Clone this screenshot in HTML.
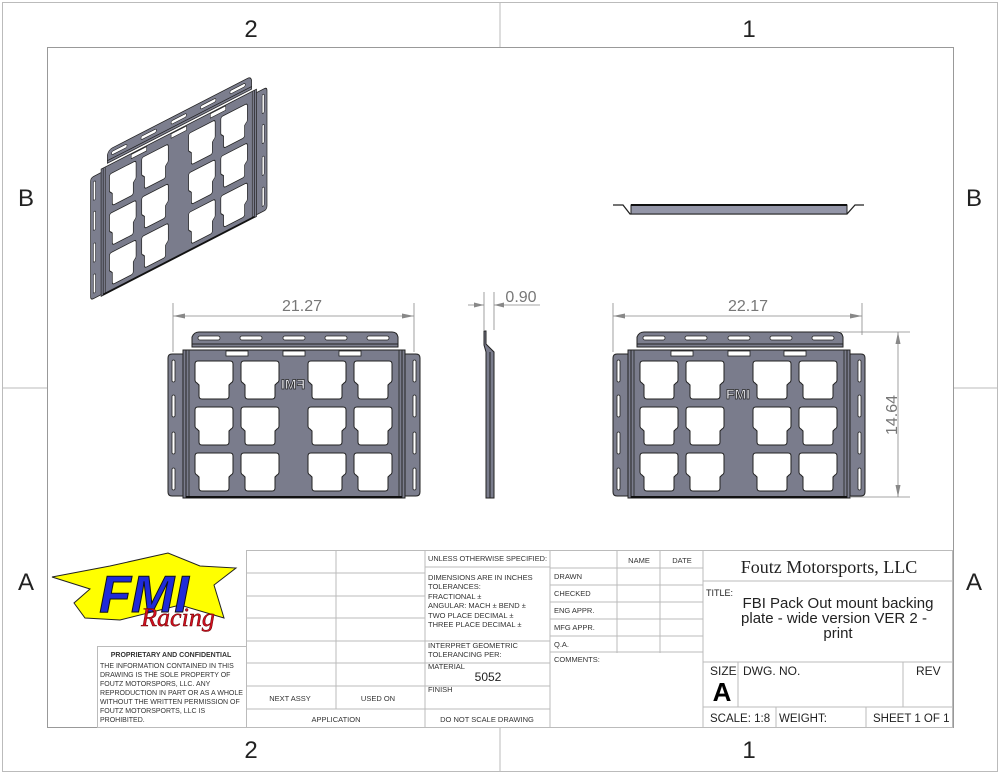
<!DOCTYPE html>
<html><head><meta charset="utf-8"><style>
html,body{margin:0;padding:0;background:#fff;}
svg{display:block;font-family:"Liberation Sans",sans-serif;}
</style></head><body>
<svg width="1000" height="774" viewBox="0 0 1000 774" xmlns="http://www.w3.org/2000/svg">
<defs>
<path id="co" d="M0,3 Q0,0 3,0 H35 Q38,0 38,3 V19 Q38,21 36,22 L34,24 V35 Q34,38 31,38 H7 Q4,38 4,35 V24 L2,22 Q0,21 0,19 Z" fill="#fff" stroke="#222" stroke-width="1"/>
<g id="plate">
  <path d="M192,347 L192,337 Q194,332 199,332 H392 Q397,332 398,337 L398,347 Z" fill="#7c7e8e" stroke="#222" stroke-width="1"/>
  <g fill="#fff" stroke="#222" stroke-width="0.8">
    <rect x="198" y="336" width="22" height="4" rx="2"/><rect x="240" y="336" width="22" height="4" rx="2"/><rect x="283" y="336" width="22" height="4" rx="2"/><rect x="325" y="336" width="22" height="4" rx="2"/><rect x="367" y="336" width="22" height="4" rx="2"/>
  </g>
  <line x1="192" y1="344" x2="398" y2="344" stroke="#222"/>
  <path d="M186,354 H172 Q168,354 168,358 V492 Q168,496 172,496 H186 Z" fill="#7c7e8e" stroke="#222"/>
  <path d="M402,354 H416 Q420,354 420,358 V492 Q420,496 416,496 H402 Z" fill="#7c7e8e" stroke="#222"/>
  <g fill="#fff" stroke="#222" stroke-width="0.8">
    <rect x="172" y="360" width="3" height="22" rx="1.5"/><rect x="172" y="395" width="3" height="22" rx="1.5"/><rect x="172" y="432" width="3" height="22" rx="1.5"/><rect x="172" y="468" width="3" height="22" rx="1.5"/>
    <rect x="413" y="360" width="3" height="22" rx="1.5"/><rect x="413" y="395" width="3" height="22" rx="1.5"/><rect x="413" y="432" width="3" height="22" rx="1.5"/><rect x="413" y="468" width="3" height="22" rx="1.5"/>
  </g>
  <rect x="183" y="350" width="222" height="148" fill="#7a7c8c" stroke="#222"/>
  <line x1="186" y1="350" x2="186" y2="498" stroke="#222"/><line x1="189" y1="350" x2="189" y2="498" stroke="#333"/>
  <line x1="402" y1="350" x2="402" y2="498" stroke="#222"/><line x1="399" y1="350" x2="399" y2="498" stroke="#333"/>
  <line x1="186" y1="497" x2="402" y2="497" stroke="#111" stroke-width="2"/>
  <g fill="#fff" stroke="#222" stroke-width="0.8">
    <rect x="226" y="351" width="22" height="5"/><rect x="283" y="351" width="22" height="5"/><rect x="339" y="351" width="22" height="5"/>
  </g>
  <use href="#co" x="195" y="361"/><use href="#co" x="241" y="361"/><use href="#co" x="308" y="361"/><use href="#co" x="354" y="361"/>
  <use href="#co" x="195" y="407"/><use href="#co" x="241" y="407"/><use href="#co" x="308" y="407"/><use href="#co" x="354" y="407"/>
  <use href="#co" x="195" y="453"/><use href="#co" x="241" y="453"/><use href="#co" x="308" y="453"/><use href="#co" x="354" y="453"/>
</g>
</defs>

<rect x="2.5" y="2.5" width="995" height="769" fill="none" stroke="#bbb"/>
<rect x="47.5" y="47.5" width="906" height="680" fill="none" stroke="#999"/>
<g stroke="#bbb"><line x1="500" y1="3" x2="500" y2="47"/><line x1="500" y1="728" x2="500" y2="771"/><line x1="3" y1="388" x2="47" y2="388"/><line x1="954" y1="388" x2="997" y2="388"/></g>
<g font-size="24" fill="#222" text-anchor="middle">
<text x="251" y="37">2</text><text x="749" y="37">1</text>
<text x="251" y="758">2</text><text x="749" y="758">1</text>
<text x="26" y="206">B</text><text x="974" y="206">B</text>
<text x="26" y="590">A</text><text x="974" y="590">A</text>
</g>

<!-- iso view -->
<g transform="matrix(0.7,-0.36,0,0.86,-27,-66)"><use href="#plate"/></g>

<polyline points="613,205 623,205 630,214 847,214 855,205 864,205" fill="none" stroke="#222" stroke-width="1.3"/>
<rect x="631" y="205" width="216" height="9" fill="#9496a8" stroke="#222"/>
<line x1="631" y1="205" x2="847" y2="205" stroke="#111" stroke-width="2"/>

<use href="#plate"/>
<text x="259" y="389" font-size="14" font-weight="bold" fill="#e8e8ee" stroke="#222" stroke-width="0.7" transform="translate(552,0) scale(-1,1)" text-anchor="middle">FMI</text>
<g transform="translate(445,0)"><use href="#plate"/></g>
<text x="738" y="399" font-size="14" font-weight="bold" fill="#e8e8ee" stroke="#222" stroke-width="0.7" text-anchor="middle">FMI</text>

<path d="M484,331 L486,331 L486,344 L494,352 L494,498 L486,498 L486,352 L484,345 Z" fill="#7a7c8c" stroke="#222"/>
<line x1="490" y1="352" x2="490" y2="498" stroke="#222"/>

<g stroke="#888" stroke-width="0.8" fill="none">
<line x1="173" y1="303" x2="173" y2="352"/><line x1="414" y1="303" x2="414" y2="352"/><line x1="173" y1="316" x2="414" y2="316"/>
<line x1="613" y1="303" x2="613" y2="352"/><line x1="862" y1="303" x2="862" y2="335"/><line x1="613" y1="316" x2="862" y2="316"/>
<line x1="840" y1="332" x2="910" y2="332"/><line x1="850" y1="497" x2="910" y2="497"/><line x1="898" y1="332" x2="898" y2="497"/>
<line x1="484" y1="292" x2="484" y2="330"/><line x1="494" y1="292" x2="494" y2="330"/><line x1="468" y1="305" x2="484" y2="305"/><line x1="494" y1="305" x2="540" y2="305"/>
</g>
<g fill="#888">
<path d="M173,316 l12,-2.5 v5z"/><path d="M414,316 l-12,-2.5 v5z"/>
<path d="M613,316 l12,-2.5 v5z"/><path d="M862,316 l-12,-2.5 v5z"/>
<path d="M898,332 l-2.5,12 h5z"/><path d="M898,497 l-2.5,-12 h5z"/>
<path d="M484,305 l-10,-2.5 v5z"/><path d="M494,305 l10,-2.5 v5z"/>
</g>
<g font-size="16" fill="#777" text-anchor="middle">
<text x="302" y="311">21.27</text><text x="748" y="311">22.17</text><text x="521" y="302">0.90</text>
<text x="893" y="415" transform="rotate(-90,893,415)" dominant-baseline="middle">14.64</text>
</g>

<polygon points="52,577 110,566 168,553 200,566 236,568 214,585 224,618 180,605 120,620 85,618 74,603 90,589" fill="#ffff00" stroke="#222" stroke-width="1"/>
<text x="144" y="612" font-size="52" font-weight="bold" font-style="italic" fill="#1f2bd8" stroke="#111" stroke-width="1" text-anchor="middle">FMI</text>
<text x="178" y="626" font-size="26" font-style="italic" font-family="Liberation Serif,serif" fill="#d01020" stroke="#600" stroke-width="0.5" text-anchor="middle">Racing</text>

<g stroke="#bbb" stroke-width="1" fill="none">
<rect x="246.5" y="550.5" width="706" height="177"/>
<line x1="336" y1="550" x2="336" y2="709"/><line x1="425" y1="550" x2="425" y2="728"/><line x1="550" y1="550" x2="550" y2="728"/>
<line x1="617" y1="550" x2="617" y2="653"/><line x1="660" y1="550" x2="660" y2="653"/><line x1="703" y1="550" x2="703" y2="728"/>
<line x1="246" y1="573" x2="425" y2="573"/><line x1="246" y1="596" x2="425" y2="596"/><line x1="246" y1="618" x2="425" y2="618"/><line x1="246" y1="641" x2="425" y2="641"/><line x1="246" y1="663" x2="425" y2="663"/><line x1="246" y1="686" x2="425" y2="686"/><line x1="246" y1="709" x2="550" y2="709"/>
<line x1="425" y1="567" x2="550" y2="567"/><line x1="425" y1="641" x2="550" y2="641"/><line x1="425" y1="663" x2="550" y2="663"/><line x1="425" y1="686" x2="550" y2="686"/>
<line x1="550" y1="568" x2="703" y2="568"/><line x1="550" y1="585" x2="703" y2="585"/><line x1="550" y1="602" x2="703" y2="602"/><line x1="550" y1="619" x2="703" y2="619"/><line x1="550" y1="636" x2="703" y2="636"/><line x1="550" y1="652" x2="703" y2="652"/>
<line x1="703" y1="581" x2="953" y2="581"/><line x1="703" y1="662" x2="953" y2="662"/><line x1="703" y1="707" x2="953" y2="707"/>
<line x1="738" y1="662" x2="738" y2="707"/><line x1="903" y1="662" x2="903" y2="707"/><line x1="776" y1="707" x2="776" y2="728"/><line x1="866" y1="707" x2="866" y2="728"/>
<rect x="97.5" y="646.5" width="149" height="81"/>
</g>
<g font-size="7" fill="#333">
<text x="171" y="657" text-anchor="middle" font-weight="bold">PROPRIETARY AND CONFIDENTIAL</text>
<text x="100" y="668">THE INFORMATION CONTAINED IN THIS</text>
<text x="100" y="677">DRAWING IS THE SOLE PROPERTY OF</text>
<text x="100" y="686">FOUTZ MOTORSPORS, LLC.  ANY</text>
<text x="100" y="695" textLength="143" lengthAdjust="spacingAndGlyphs">REPRODUCTION IN PART OR AS A WHOLE</text>
<text x="100" y="704">WITHOUT THE WRITTEN PERMISSION OF</text>
<text x="100" y="713">FOUTZ MOTORSPORTS, LLC IS</text>
<text x="100" y="722">PROHIBITED.</text>
</g>
<g font-size="7.5" fill="#333">
<text x="290" y="701" text-anchor="middle">NEXT ASSY</text>
<text x="378" y="701" text-anchor="middle">USED ON</text>
<text x="336" y="722" text-anchor="middle">APPLICATION</text>
<text x="487" y="722" text-anchor="middle">DO NOT SCALE DRAWING</text>
<text x="428" y="561" textLength="119" lengthAdjust="spacingAndGlyphs">UNLESS OTHERWISE SPECIFIED:</text>
<text x="428" y="580">DIMENSIONS ARE IN INCHES</text>
<text x="428" y="589">TOLERANCES:</text>
<text x="428" y="599">FRACTIONAL ±</text>
<text x="428" y="608">ANGULAR: MACH ±    BEND ±</text>
<text x="428" y="618">TWO PLACE DECIMAL    ±</text>
<text x="428" y="627">THREE PLACE DECIMAL  ±</text>
<text x="428" y="648">INTERPRET GEOMETRIC</text>
<text x="428" y="657">TOLERANCING PER:</text>
<text x="428" y="669">MATERIAL</text>
<text x="428" y="692">FINISH</text>
<text x="639" y="563" text-anchor="middle">NAME</text><text x="682" y="563" text-anchor="middle">DATE</text>
<text x="554" y="579">DRAWN</text><text x="554" y="596">CHECKED</text><text x="554" y="613">ENG APPR.</text><text x="554" y="630">MFG APPR.</text><text x="554" y="647">Q.A.</text><text x="554" y="662">COMMENTS:</text>
</g>
<text x="488" y="681" font-size="12" fill="#222" text-anchor="middle">5052</text>
<text x="829" y="573" font-size="18" font-family="Liberation Serif,serif" fill="#222" text-anchor="middle">Foutz Motorsports, LLC</text>
<text x="706" y="596" font-size="9" fill="#222">TITLE:</text>
<g font-size="15" fill="#222" text-anchor="middle">
<text x="838" y="608">FBI Pack Out mount backing</text>
<text x="834" y="623">plate - wide version VER 2 -</text>
<text x="838" y="638">print</text>
</g>
<g font-size="12" fill="#222">
<text x="710" y="675">SIZE</text><text x="743" y="675">DWG.  NO.</text><text x="916" y="675">REV</text>
<text x="710" y="722" font-size="11.5">SCALE: 1:8</text><text x="779" y="722" font-size="11.5">WEIGHT:</text><text x="873" y="722" font-size="11.5">SHEET 1 OF 1</text>
</g>
<text x="722" y="701" font-size="26" font-weight="bold" fill="#000" text-anchor="middle">A</text>
</svg>
</body></html>
